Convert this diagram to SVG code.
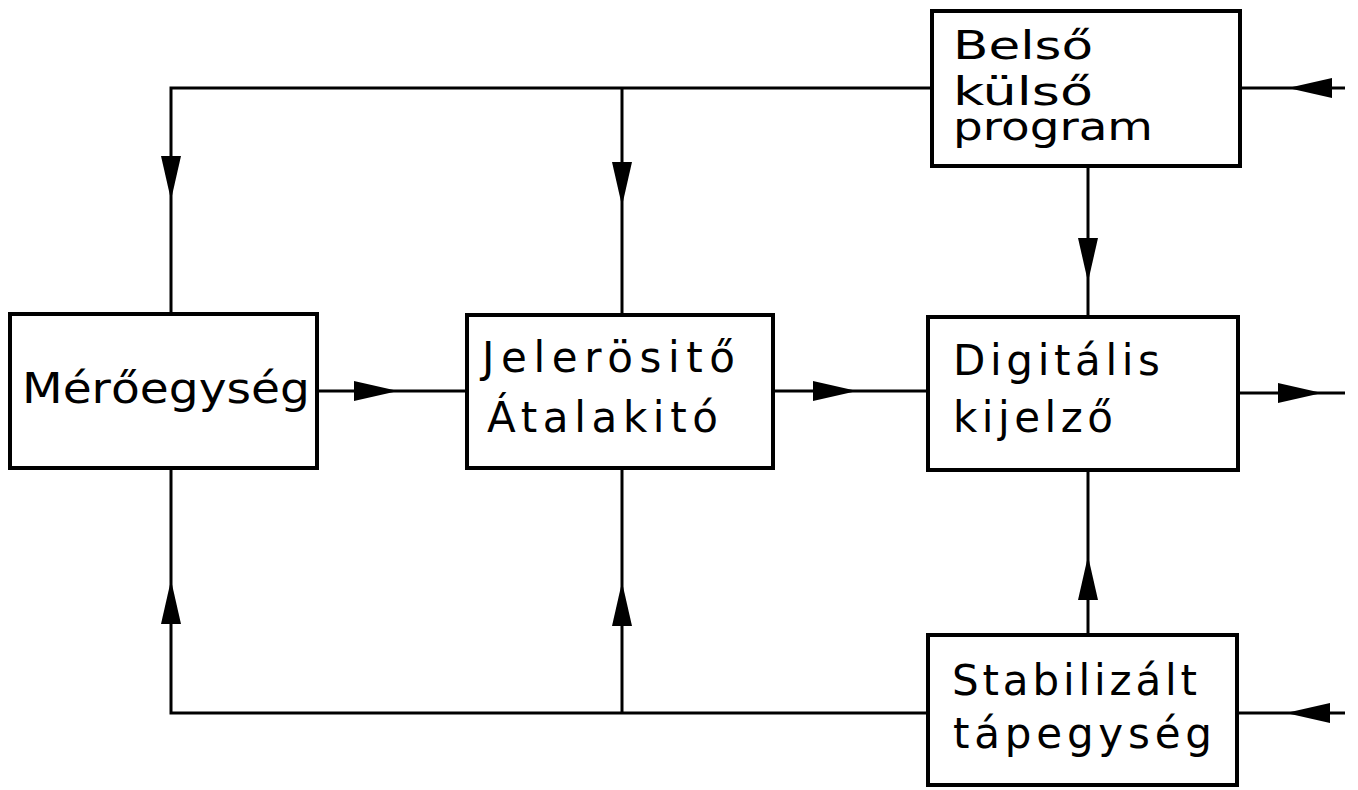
<svg xmlns="http://www.w3.org/2000/svg" width="1358" height="790" viewBox="0 0 1358 790">
<style>
.box{fill:#fff;stroke:#000;stroke-width:4}
.ln{fill:none;stroke:#000;stroke-width:3}
.t{font-family:"DejaVu Sans","Liberation Sans",sans-serif;font-size:42px;fill:#000}
.s{font-size:39px}
</style>
<defs>
<path id="ah" d="M0,0 L-44,-10 L-44,10 Z" fill="#000"/>
</defs>
<rect width="1358" height="790" fill="#fff"/>
<g id="connectors">
<path class="ln" d="M932,88 H171 V314"/>
<path class="ln" d="M622,88 V315"/>
<path class="ln" d="M1240,88 H1345"/>
<path class="ln" d="M1088,166 V317"/>
<path class="ln" d="M317,391 H467"/>
<path class="ln" d="M773,391 H928"/>
<path class="ln" d="M1238,393 H1345"/>
<path class="ln" d="M1088,470 V635"/>
<path class="ln" d="M928,713 H171 V468"/>
<path class="ln" d="M622,713 V468"/>
<path class="ln" d="M1237,713 H1345"/>
<use href="#ah" transform="translate(171,200) rotate(90)"/>
<use href="#ah" transform="translate(622,206) rotate(90)"/>
<use href="#ah" transform="translate(1288,88) rotate(180)"/>
<use href="#ah" transform="translate(1088,282) rotate(90)"/>
<use href="#ah" transform="translate(398,391)"/>
<use href="#ah" transform="translate(857,391)"/>
<use href="#ah" transform="translate(1322,393)"/>
<use href="#ah" transform="translate(1088,556) rotate(-90)"/>
<use href="#ah" transform="translate(171,580) rotate(-90)"/>
<use href="#ah" transform="translate(622,582) rotate(-90)"/>
<use href="#ah" transform="translate(1286,713) rotate(180)"/>
</g>
<g id="meroegyseg">
<rect class="box" x="10" y="314" width="307" height="154"/>
<text class="t" x="22" y="403" textLength="288" lengthAdjust="spacingAndGlyphs">Mérőegység</text>
</g>
<g id="jelerosito">
<rect class="box" x="467" y="315" width="306" height="153"/>
<text class="t" x="482" y="372" textLength="253" lengthAdjust="spacing">Jelerösitő</text>
<text class="t" x="487" y="432" textLength="231" lengthAdjust="spacing">Átalakitó</text>
</g>
<g id="program">
<rect class="box" x="932" y="11" width="308" height="155"/>
<text class="t s" x="953" y="59" textLength="140" lengthAdjust="spacingAndGlyphs">Belső</text>
<text class="t s" x="953" y="105" textLength="140" lengthAdjust="spacingAndGlyphs">külső</text>
<text class="t s" x="953" y="140" textLength="200" lengthAdjust="spacingAndGlyphs">program</text>
</g>
<g id="kijelzo">
<rect class="box" x="928" y="317" width="310" height="153"/>
<text class="t" x="953" y="375" textLength="207" lengthAdjust="spacing">Digitális</text>
<text class="t" x="953" y="432" textLength="160" lengthAdjust="spacing">kijelző</text>
</g>
<g id="tapegyseg">
<rect class="box" x="928" y="635" width="309" height="150"/>
<text class="t" x="952" y="695" textLength="245" lengthAdjust="spacing">Stabilizált</text>
<text class="t" x="953" y="748" textLength="259" lengthAdjust="spacing">tápegység</text>
</g>
</svg>
